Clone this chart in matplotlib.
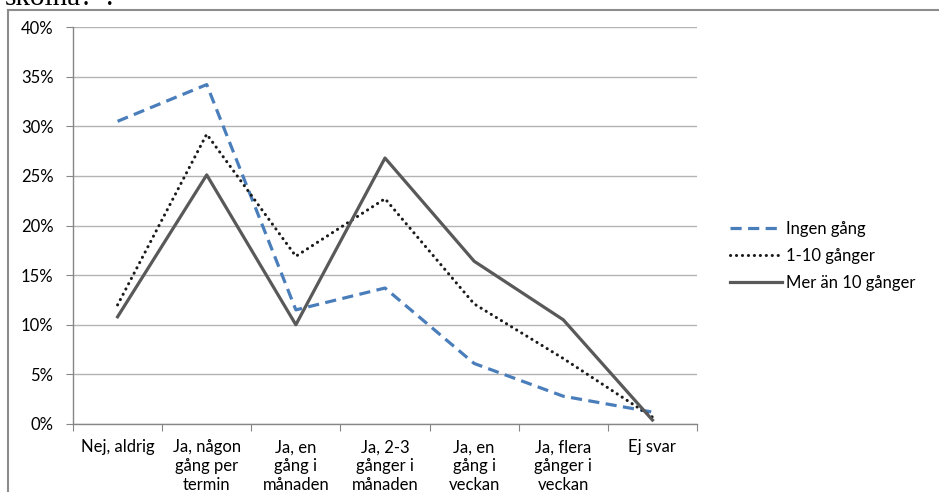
import matplotlib
matplotlib.use("Agg")
import matplotlib.pyplot as plt
from matplotlib.patches import Rectangle
from matplotlib.ticker import PercentFormatter

plt.rcParams['font.family'] = ['Lato', 'DejaVu Sans']

categories = ["Nej, aldrig", "Ja, någon\ngång per\ntermin", "Ja, en\ngång i\nmånaden",
              "Ja, 2-3\ngånger i\nmånaden", "Ja, en\ngång i\nveckan", "Ja, flera\ngånger i\nveckan",
              "Ej svar"]
ingen_gang = [30.5, 34.2, 11.5, 13.7, 6.1, 2.8, 1.2]
en_tio_ganger = [12.0, 29.2, 16.9, 22.7, 12.1, 6.6, 0.7]
mer_an_tio = [10.8, 25.1, 10.0, 26.8, 16.4, 10.5, 0.4]
series_names = ["Ingen gång", "1-10 gånger", "Mer än 10 gånger"]
y_ticks = [0, 5, 10, 15, 20, 25, 30, 35, 40]

fig = plt.figure(figsize=(9.39, 4.92), dpi=100)
ax = fig.add_axes([73 / 939, 1 - 424 / 492, (697 - 73) / 939, (424 - 27) / 492])

# ram runt diagrammet (beskuren i originalet)
fig.patches.append(Rectangle((8 / 939, -0.1), 1.2, 1.1 - 10 / 492, transform=fig.transFigure,
                             fill=False, edgecolor='#8c8c8c', linewidth=1.5))
# avklippt rubrik ovanför
fig.text(5 / 939, 1 - 5 / 492, 'skolna?”.', family='Liberation Serif', fontsize=21,
         ha='left', va='baseline')

x = list(range(len(categories)))
ax.plot(x, ingen_gang, color='#4a7ebb', linewidth=2.3, linestyle=(0, (3.5, 2.0)),
        label=series_names[0])
ax.plot(x, en_tio_ganger, color='#1a1a1a', linewidth=2.2, linestyle=(0, (0.05, 1.9)),
        dash_capstyle='round', label=series_names[1])
ax.plot(x, mer_an_tio, color='#595959', linewidth=2.3, label=series_names[2])

ax.set_xlim(-0.5, len(categories) - 0.5)
ax.set_ylim(0, 40)
ax.set_yticks(y_ticks)
ax.yaxis.set_major_formatter(PercentFormatter(decimals=0))
ax.yaxis.grid(True, color='#b3b3b3', linewidth=1.0)
ax.set_axisbelow(True)

ax.set_xticks([i - 0.5 for i in range(len(categories) + 1)])
ax.set_xticklabels([])
ax.set_xticks(x, minor=True)
ax.set_xticklabels(categories, minor=True, fontsize=12, linespacing=1.22, va='top')
ax.tick_params(axis='x', which='minor', length=0, pad=11)
ax.tick_params(axis='x', which='major', length=5, color='#868686', direction='out')
ax.tick_params(axis='y', length=5, color='#868686', labelsize=12, pad=9)

for side in ['top', 'right']:
    ax.spines[side].set_visible(False)
for side in ['left', 'bottom']:
    ax.spines[side].set_color('#868686')
    ax.spines[side].set_linewidth(1.0)

ax.legend(loc='center left', bbox_to_anchor=(722 / 939, 1 - 256 / 492),
          bbox_transform=fig.transFigure, frameon=False, fontsize=12,
          handlelength=3.1, handletextpad=0.25, labelspacing=0.65, borderpad=0)

fig.savefig('out.png', dpi=100)
